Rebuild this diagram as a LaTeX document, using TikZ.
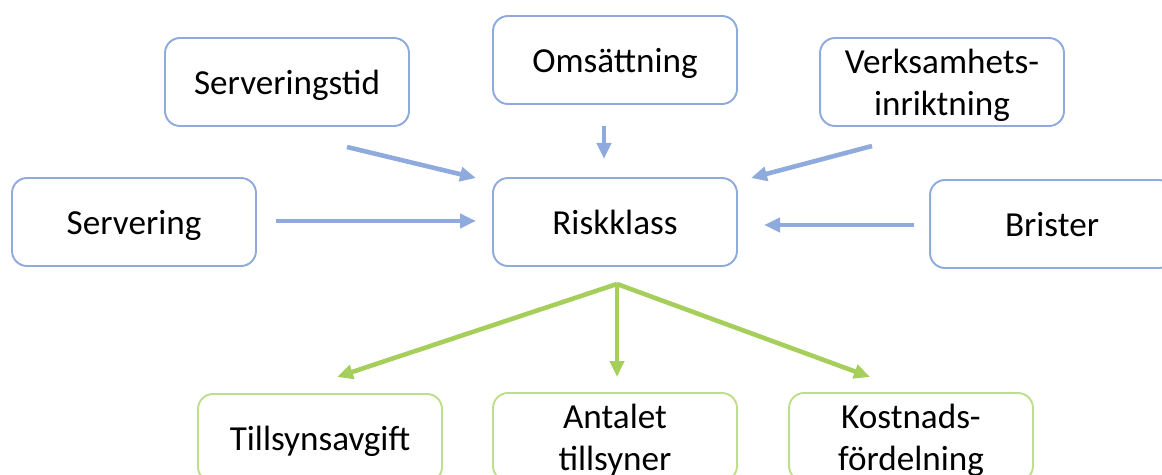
\documentclass[tikz,border=0pt]{standalone}
\usepackage{fontspec}
\setmainfont{Carlito}
\usetikzlibrary{arrows.meta,positioning}
\definecolor{boxblue}{RGB}{143,170,220}
\definecolor{boxgreen}{RGB}{190,222,140}
\definecolor{arrgreen}{RGB}{166,206,90}

\begin{document}
\begin{tikzpicture}[x=0.02cm,y=-0.02cm]
\tikzstyle{every node}+=[font=\fontsize{20}{24}\selectfont,align=center,text depth=0pt]
\tikzstyle{bbox}=[draw=boxblue,line width=1.1pt,rounded corners=0.3cm,minimum width=4.88cm,minimum height=1.76cm,inner sep=0pt]
\tikzstyle{gbox}=[bbox,draw=boxgreen]
\tikzstyle{barr}=[draw=boxblue,line width=2.6pt,-{Triangle[length=3.2mm,width=2.8mm]}]
\tikzstyle{garr}=[draw=arrgreen,line width=2.6pt,-{Triangle[length=3.2mm,width=2.8mm]}]
\clip (0,0) rectangle (1162,475);
% input boxes
\node [bbox] (st) at (287,82) {Serveringstid};
\node [bbox] (om) at (615,60) {Omsättning};
\node [bbox] (vk) at (942,82) {Verksamhets-\\inriktning};
\node [bbox] (sv) at (134,222) {Servering};
\node [bbox] (rk) at (615,222) {Riskklass};
\node [bbox] (br) at (1052,224) {Brister};
% output boxes
\node [gbox] (ta) at (320,438) {Tillsynsavgift};
\node [gbox] (at) at (615,437) {Antalet\\tillsyner};
\node [gbox] (kf) at (911,437) {Kostnads-\\fördelning};
% arrow ends
\coordinate (st1) at (347,147);
\coordinate (st2) at (476,178);
\coordinate (om1) at (604,126);
\coordinate (om2) at (604,159);
\coordinate (vk1) at (872,146);
\coordinate (vk2) at (751,178);
\coordinate (sv1) at (276,221);
\coordinate (sv2) at (476,221);
\coordinate (br1) at (914,225);
\coordinate (br2) at (764,225);
\coordinate (rk1) at (617,284);
\coordinate (ta1) at (337,377);
\coordinate (at1) at (617,377);
\coordinate (kf1) at (870,377);
\draw [barr] (st1) -- (st2);
\draw [barr] (om1) -- (om2);
\draw [barr] (vk1) -- (vk2);
\draw [barr] (sv1) -- (sv2);
\draw [barr] (br1) -- (br2);
\draw [garr] (rk1) -- (ta1);
\draw [garr] (rk1) -- (at1);
\draw [garr] (rk1) -- (kf1);
\end{tikzpicture}
\end{document}
